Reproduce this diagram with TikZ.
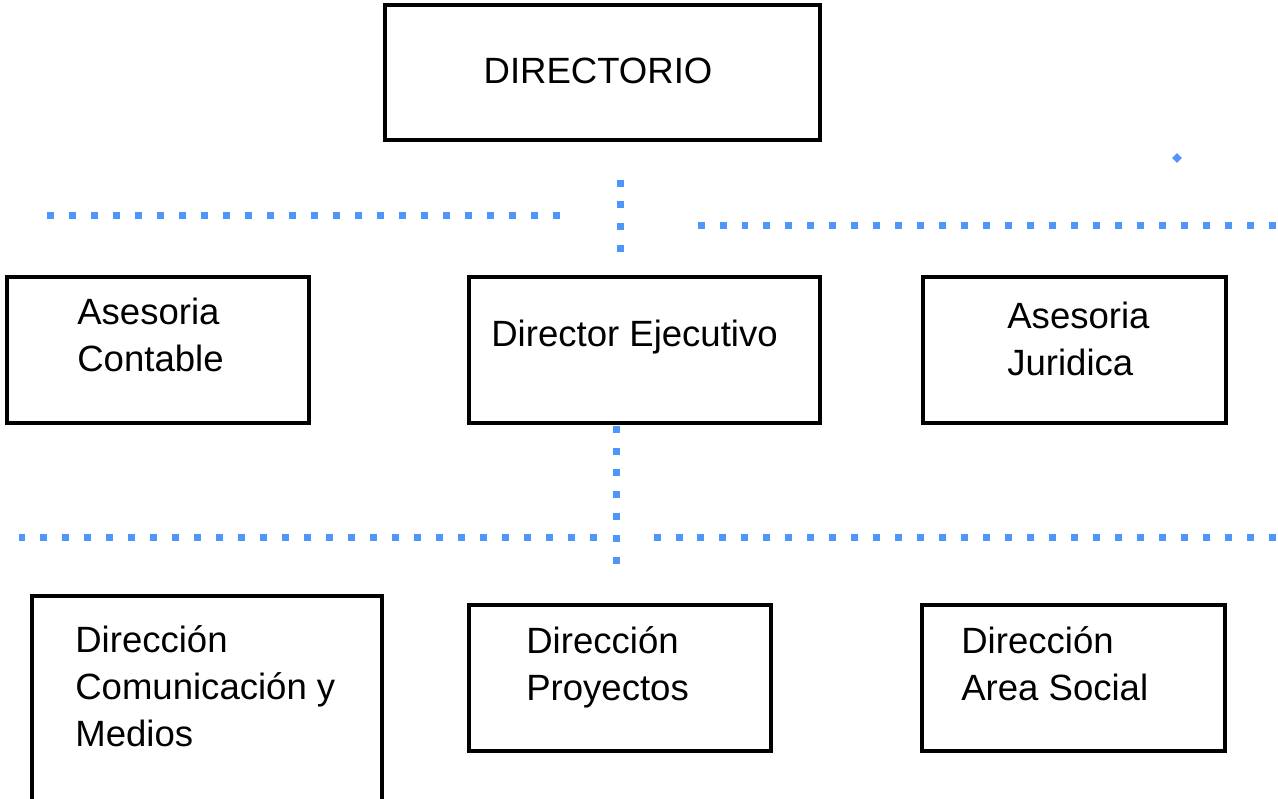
\documentclass[tikz,border=0pt]{standalone}
\usepackage{fontspec}
\setmainfont{Liberation Sans}
\usetikzlibrary{fit}
\definecolor{dotblue}{RGB}{80,150,250}
\tikzset{
  box/.style={draw=black, line width=0.07cm, inner sep=0pt},
  boxtext/.style={font=\fontsize{20.8}{26.75}\selectfont, align=left, inner sep=0pt, anchor=base west},
  dotline/.style={dotblue, line width=0.14cm, dash pattern=on 0.14cm off 0.3cm},
}
\begin{document}
\begin{tikzpicture}[x=0.02cm, y=-0.02cm]
  \useasboundingbox (0,0) rectangle (1278,798);

  % Boxes (text anchored at the baseline of its last line)
  \node[box, fit={(385,5) (820,140)}] (directorio) {};
  \node[boxtext, anchor=base] (directorio-t) at (598,83) {DIRECTORIO};

  \node[box, fit={(7,277) (309,423)}] (contable) {};
  \node[boxtext] (contable-t) at (77,371) {Asesoria\\Contable};

  \node[box, fit={(469,277) (820,423)}] (ejecutivo) {};
  \node[boxtext] (ejecutivo-t) at (491,346) {Director Ejecutivo};

  \node[box, fit={(923,277) (1226,423)}] (juridica) {};
  \node[boxtext] (juridica-t) at (1007,375) {Asesoria\\Juridica};

  \node[box, fit={(32,596) (382,805)}] (comunicacion) {};
  \node[boxtext] (comunicacion-t) at (75,746) {Dirección\\Comunicación y\\Medios};

  \node[box, fit={(469,605) (771,751)}] (proyectos) {};
  \node[boxtext] (proyectos-t) at (526,700) {Dirección\\Proyectos};

  \node[box, fit={(922,605) (1225,751)}] (social) {};
  \node[boxtext] (social-t) at (961,700) {Dirección\\Area Social};

  % Dotted guide lines
  \coordinate (tl-a) at (47,215);
  \coordinate (tl-b) at (561,215);
  \coordinate (tv-a) at (620,179.5);
  \coordinate (tv-b) at (620,253);
  \coordinate (tr-a) at (697.5,225);
  \coordinate (tr-b) at (1285,225);
  \coordinate (bv-a) at (616,425.5);
  \coordinate (bv-b) at (616,565);
  \coordinate (bl-a) at (18.5,537);
  \coordinate (bl-b) at (598,537);
  \coordinate (br-a) at (653.5,537);
  \coordinate (br-b) at (1285,537);

  \draw[dotline] (tl-a) -- (tl-b);
  \draw[dotline] (tv-a) -- (tv-b);
  \draw[dotline] (tr-a) -- (tr-b);
  \draw[dotline] (bv-a) -- (bv-b);
  \draw[dotline] (bl-a) -- (bl-b);
  \draw[dotline] (br-a) -- (br-b);

  % stray mark
  \node[fill=dotblue, inner sep=0pt, minimum size=0.14cm, rotate=45] (mark) at (1177,158) {};
\end{tikzpicture}
\end{document}
